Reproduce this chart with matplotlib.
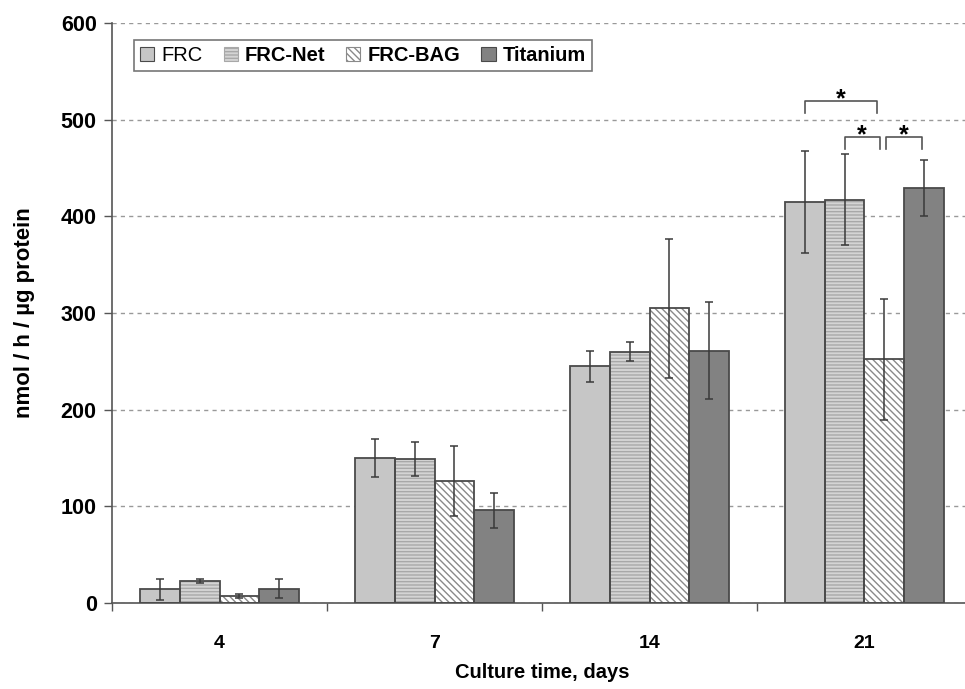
import matplotlib
matplotlib.use("Agg")
import matplotlib.pyplot as plt
import numpy as np

plt.rcParams['font.family'] = ['Liberation Sans', 'DejaVu Sans']

categories = ['4', '7', '14', '21']
series = ['FRC', 'FRC-Net', 'FRC-BAG', 'Titanium']
values = {
    'FRC':      [14, 150, 245, 415],
    'FRC-Net':  [23, 149, 260, 417],
    'FRC-BAG':  [7, 126, 305, 252],
    'Titanium': [15, 96, 261, 429],
}
errors = {
    'FRC':      [11, 20, 16, 53],
    'FRC-Net':  [2, 18, 10, 47],
    'FRC-BAG':  [2, 36, 72, 63],
    'Titanium': [10, 18, 50, 29],
}
yticks = [0, 100, 200, 300, 400, 500, 600]

faces = {'FRC': '#c6c6c6', 'FRC-Net': '#d4d4d4', 'FRC-BAG': '#ffffff', 'Titanium': '#828282'}
hatches = {'FRC': None, 'FRC-Net': '-----', 'FRC-BAG': '\\\\\\\\\\', 'Titanium': None}
hatchcol = {'FRC': '#c6c6c6', 'FRC-Net': '#a8a8a8', 'FRC-BAG': '#8a8a8a', 'Titanium': '#828282'}
edge = '#4a4a4a'

fig = plt.figure(figsize=(9.65, 6.89), dpi=100)
ax = fig.add_axes([112/965, 1 - 603/689, 860/965, (603-23)/689])

x = np.arange(len(categories))
w = 0.186
offsets = (np.arange(4) - 1.5) * w
handles = []
for i, s in enumerate(series):
    xs = x + offsets[i]
    if hatches[s]:
        ax.bar(xs, values[s], w, color=faces[s], edgecolor=hatchcol[s], hatch=hatches[s], linewidth=0, zorder=2)
    else:
        ax.bar(xs, values[s], w, color=faces[s], linewidth=0, zorder=2)
    ax.bar(xs, values[s], w, fill=False, edgecolor=edge, linewidth=1.3, zorder=3)
    ax.errorbar(xs, values[s], yerr=errors[s], fmt='none', ecolor='#3a3a3a', elinewidth=1.1,
                capsize=3.2, capthick=1.1, zorder=4)
    h = plt.Rectangle((0, 0), 1, 1, facecolor=faces[s], edgecolor=hatchcol[s] if hatches[s] else edge,
                      hatch=hatches[s], linewidth=0.8)
    handles.append(h)

ax.set_xlim(-0.5, 3.5)
ax.set_ylim(0, 600)
ax.set_yticks(yticks)
ax.set_xticks(x)
ax.set_xticklabels(categories)
ax.set_xticks(np.arange(-0.5, 4.0, 1.0), minor=True)
ax.tick_params(axis='x', which='major', length=0, pad=23)
ax.tick_params(axis='x', which='minor', length=6, color='#555555', width=1)
ax.tick_params(axis='y', length=6, color='#555555', width=1, pad=5)
for lab in ax.get_xticklabels():
    lab.set_fontsize(14)
    lab.set_fontweight('bold')
for lab in ax.get_yticklabels():
    lab.set_fontsize(15.5)
    lab.set_fontweight('bold')
ax.yaxis.grid(True, linestyle=(0, (3, 3)), color='#999999', linewidth=1, zorder=0)
ax.set_axisbelow(True)
for sp in ['top', 'right']:
    ax.spines[sp].set_visible(False)
ax.spines['left'].set_color('#555555')
ax.spines['bottom'].set_color('#555555')
ax.spines['left'].set_linewidth(1.2)
ax.spines['bottom'].set_linewidth(1.2)

ax.set_xlabel('Culture time, days', fontsize=14.5, fontweight='bold', labelpad=8)
ax.set_ylabel('nmol / h / µg protein', fontsize=16, fontweight='bold')
ax.yaxis.set_label_coords(-77/860, 0.5)

leg = ax.legend(handles, series, loc='upper left', ncol=4, bbox_to_anchor=(22/860, 1 - 17/580),
                frameon=True, fancybox=False, edgecolor='#555555', fontsize=14.5,
                handlelength=0.7, handleheight=0.7, handletextpad=0.35, columnspacing=1.05,
                borderpad=0.3, borderaxespad=0)
leg.get_frame().set_linewidth(1.2)
for i, t in enumerate(leg.get_texts()):
    if i > 0:
        t.set_fontweight('bold')

# significance brackets on day 21
def bracket(i1, i2, y, leg_len, xoff1=0.0, xoff2=0.0):
    x1 = 3 + offsets[i1] + xoff1
    x2 = 3 + offsets[i2] + xoff2
    ax.plot([x1, x1, x2, x2], [y - leg_len, y, y, y - leg_len], color='#555555', lw=1.2, zorder=5)
    ax.text((x1 + x2) / 2, y - 5, '*', ha='center', va='baseline', fontsize=18, fontweight='bold')

bracket(0, 2, 519, 12, 0, -0.033)
bracket(1, 2, 482, 12, 0, -0.023)
bracket(2, 3, 482, 12, 0.005, -0.01)

fig.savefig('out.png', dpi=100)
